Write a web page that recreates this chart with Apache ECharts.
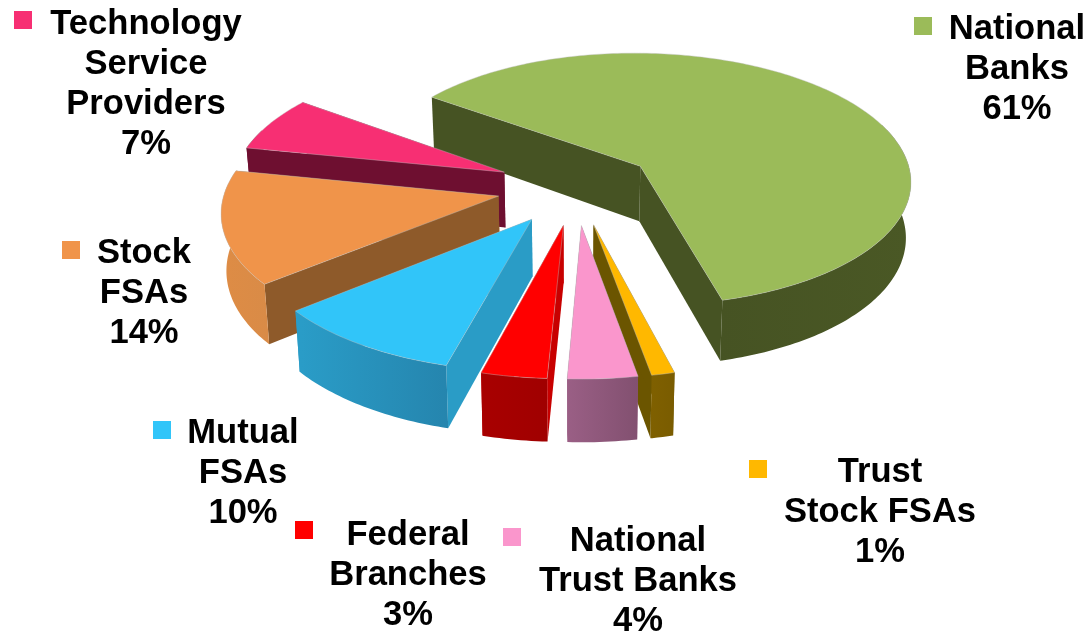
<!DOCTYPE html>
<html>
<head>
<meta charset="utf-8">
<title>Exploded pie</title>
<script src="https://cdn.jsdelivr.net/npm/echarts@6/dist/echarts.min.js"></script>
<style>
  html, body { margin: 0; padding: 0; background: #fff; }
  #chart { width: 1088px; height: 631px; }
</style>
</head>
<body>
<div id="chart"></div>
<script>
// clockwise from the top-right slice, labels show these rounded
const names = [
  'National\nBanks',
  'Trust\nStock FSAs',
  'National\nTrust Banks',
  'Federal\nBranches',
  'Mutual\nFSAs',
  'Stock\nFSAs',
  'Technology\nService\nProviders'
]
const values = [60.95, 1.2, 3.6, 3.4, 10, 14, 6.85]

// colours per slice
const topColors = ['#9BBB59', '#FFB800', '#FA96CC', '#FF0000', '#31C5F9', '#F0944A', '#F72F73']
const sideColors = ['#465323', '#6B5500', '#96587D', '#C80000', '#2A9CC6', '#8E5A2A', '#6E0F30']
const rimColors = [
  ['#465323', '#4A5825'],
  ['#7F6000', '#7A5C00'],
  ['#9A5F85', '#825070'],
  ['#A80000', '#A00000'],
  ['#2A9DC8', '#2585AE'],
  ['#DE8C45', '#D98B47'],
  ['#6E0F30', '#6E0F30']
]

// back to front
const drawOrder = [0, 6, 5, 4, 1, 3, 2]

// label block centres and marker corners, same order as names
const labelX = [1017, 880, 638, 408, 243, 144, 146]
const labelY = [69, 512, 581, 575, 473, 293, 84]
const markerX = [914, 749, 503, 295, 153, 62, 14]
const markerY = [17, 460, 528, 521, 421, 241, 11]

// projection of the tilted disc
const cx = 576
const cy = 187
const radius = 273
const tilt = 0.4725
const persp = 0.104
const explode = 0.29
const depth = 56
const depthGrow = 0.1
const bottomShrink = 0.015
const startAngle = -54

const total = values.reduce((a, b) => a + b, 0)

// level 0 is the top face, level 1 the bottom of the wall
function project(u, v, level) {
  const s = 1 / (1 - persp * v)
  return [
    cx + radius * u * s * (1 - level * bottomShrink),
    cy + radius * tilt * v * s + level * depth * (1 + depthGrow * v)
  ]
}

function sliceAngles(index) {
  let from = startAngle
  for (let i = 0; i < index; i++) from += values[i] / total * 360
  return [from, from + values[index] / total * 360]
}

function renderSlice(params, api) {
  const idx = drawOrder[api.value(0)]
  const [a0, a1] = sliceAngles(idx)
  const mid = (a0 + a1) / 2 * Math.PI / 180
  const eu = explode * Math.sin(mid)
  const ev = -explode * Math.cos(mid)

  const rim = (deg, level) => {
    const r = deg * Math.PI / 180
    return project(eu + Math.sin(r), ev - Math.cos(r), level)
  }
  const apexTop = project(eu, ev, 0)
  const apexBottom = project(eu, ev, 1)

  const topPts = [apexTop]
  for (let a = a0; a < a1; a += 1) topPts.push(rim(a, 0))
  topPts.push(rim(a1, 0))

  // rim wall only where it can show below the top face
  const wallFrom = Math.max(a0, 70)
  const wallTo = Math.min(a1, 290)
  const wallTop = []
  const wallBottom = []
  for (let a = wallFrom; a < wallTo; a += 1) {
    wallTop.push(rim(a, 0))
    wallBottom.unshift(rim(a, 1))
  }
  wallTop.push(rim(wallTo, 0))
  wallBottom.unshift(rim(wallTo, 1))

  const sideStyle = { fill: sideColors[idx] }
  const children = [
    {
      type: 'polygon',
      shape: { points: [apexTop, rim(a1, 0), rim(a1, 1), apexBottom] },
      style: sideStyle
    },
    {
      type: 'polygon',
      shape: { points: [apexTop, rim(a0, 0), rim(a0, 1), apexBottom] },
      style: sideStyle
    }
  ]
  if (wallTo > wallFrom) {
    children.push({
      type: 'polygon',
      shape: { points: wallTop.concat(wallBottom) },
      style: {
        fill: new echarts.graphic.LinearGradient(0, 0, 1, 0, [
          { offset: 0, color: rimColors[idx][0] },
          { offset: 1, color: rimColors[idx][1] }
        ])
      }
    })
  }
  children.push({
    type: 'polygon',
    shape: { points: topPts },
    style: { fill: topColors[idx], stroke: 'rgba(190,190,190,0.7)', lineWidth: 0.6 }
  })
  return { type: 'group', children: children }
}

const labelGraphics = []
names.forEach((name, i) => {
  labelGraphics.push({
    type: 'rect',
    shape: { x: markerX[i], y: markerY[i], width: 18, height: 18 },
    style: { fill: topColors[i] }
  })
  labelGraphics.push({
    type: 'text',
    x: labelX[i],
    y: labelY[i],
    style: {
      text: name + '\n' + Math.round(values[i]) + '%',
      align: 'center',
      verticalAlign: 'middle',
      fontFamily: '"Liberation Sans", Arial, sans-serif',
      fontWeight: 'bold',
      fontSize: 34.6,
      lineHeight: 40,
      fill: '#000'
    }
  })
})

const chart = echarts.init(document.getElementById('chart'), null, { renderer: 'canvas' })
chart.setOption({
  animation: false,
  backgroundColor: '#fff',
  graphic: labelGraphics,
  series: [
    {
      type: 'custom',
      coordinateSystem: 'none',
      renderItem: renderSlice,
      data: drawOrder.map((d, i) => [i, values[d]]),
      silent: true
    }
  ]
})
</script>
</body>
</html>
